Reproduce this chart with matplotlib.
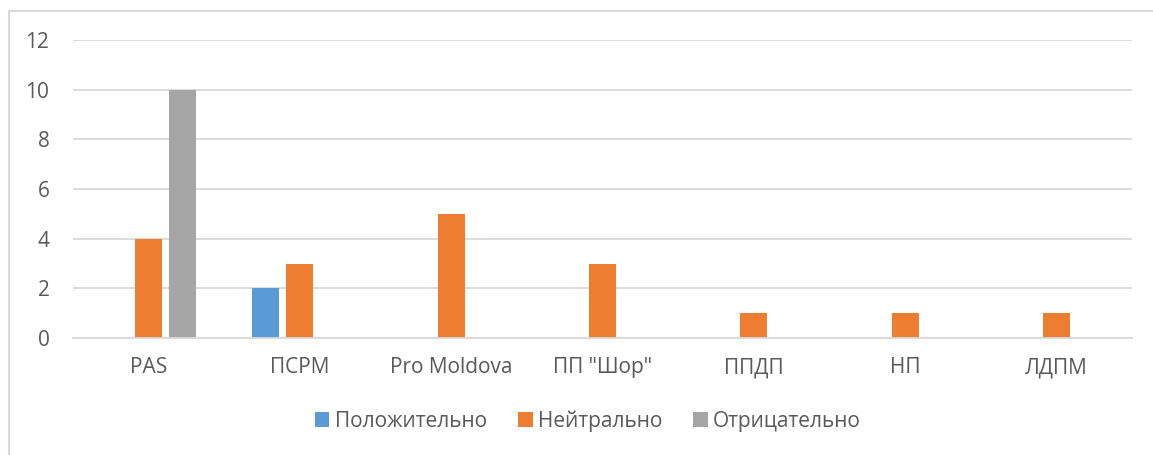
import numpy as np
import matplotlib.pyplot as plt
from matplotlib.patches import Rectangle

categories = ['PAS', 'ПСРМ', 'Pro Moldova', 'ПП "Шор"', 'ППДП', 'НП', 'ЛДПМ']
positive = [0, 2, 0, 0, 0, 0, 0]
neutral = [4, 3, 5, 3, 1, 1, 1]
negative = [10, 0, 0, 0, 0, 0, 0]
series_names = ['Положительно', 'Нейтрально', 'Отрицательно']
colors = ['#5B9BD5', '#ED7D31', '#A5A5A5']

plt.rcParams['font.family'] = ['Open Sans', 'DejaVu Sans']
text_color = '#595959'
grid_color = '#D9D9D9'

W, H = 1153, 455
fig = plt.figure(figsize=(W / 100, H / 100), dpi=100)

# axes area in pixels
x0, x1 = 73, 1132
y0, y1 = 338, 40
ax = fig.add_axes([x0 / W, 1 - y0 / H, (x1 - x0) / W, (y0 - y1) / H])

x = np.arange(len(categories))
width = 0.178
step = 0.225
for i, (vals, name, c) in enumerate(zip([positive, neutral, negative], series_names, colors)):
    ax.bar(x + (i - 1) * step, vals, width, color=c, label=name, zorder=3)

ax.set_xlim(-0.5, len(categories) - 0.5)
ax.set_ylim(0, 12)
ax.set_yticks(range(0, 13, 2))
ax.set_xticks(x)
ax.set_xticklabels(categories)
ax.yaxis.grid(True, color=grid_color, linewidth=1.3, zorder=0)
for s in ['top', 'right', 'left']:
    ax.spines[s].set_visible(False)
ax.spines['bottom'].set_color(grid_color)
ax.spines['bottom'].set_linewidth(1.3)
ax.spines['bottom'].set_zorder(4)
ax.tick_params(axis='both', length=0, labelsize=15, colors=text_color)
ax.tick_params(axis='x', pad=14)
ax.tick_params(axis='y', pad=17)

leg = fig.legend(loc='center', bbox_to_anchor=(588 / W, 1 - 421 / H), ncol=3, frameon=False,
                 fontsize=15, handlelength=0.7, handleheight=0.7, handletextpad=0.25,
                 columnspacing=1.5)
for t in leg.get_texts():
    t.set_color(text_color)

# chart border (right and bottom edges fall outside the image)
fig.patches.append(Rectangle((8.5 / W, -0.1), 1.2, 1 - 10.5 / H + 0.1,
                             transform=fig.transFigure, fill=False,
                             edgecolor=grid_color, linewidth=1.5))

fig.savefig('out.png', dpi=100)
